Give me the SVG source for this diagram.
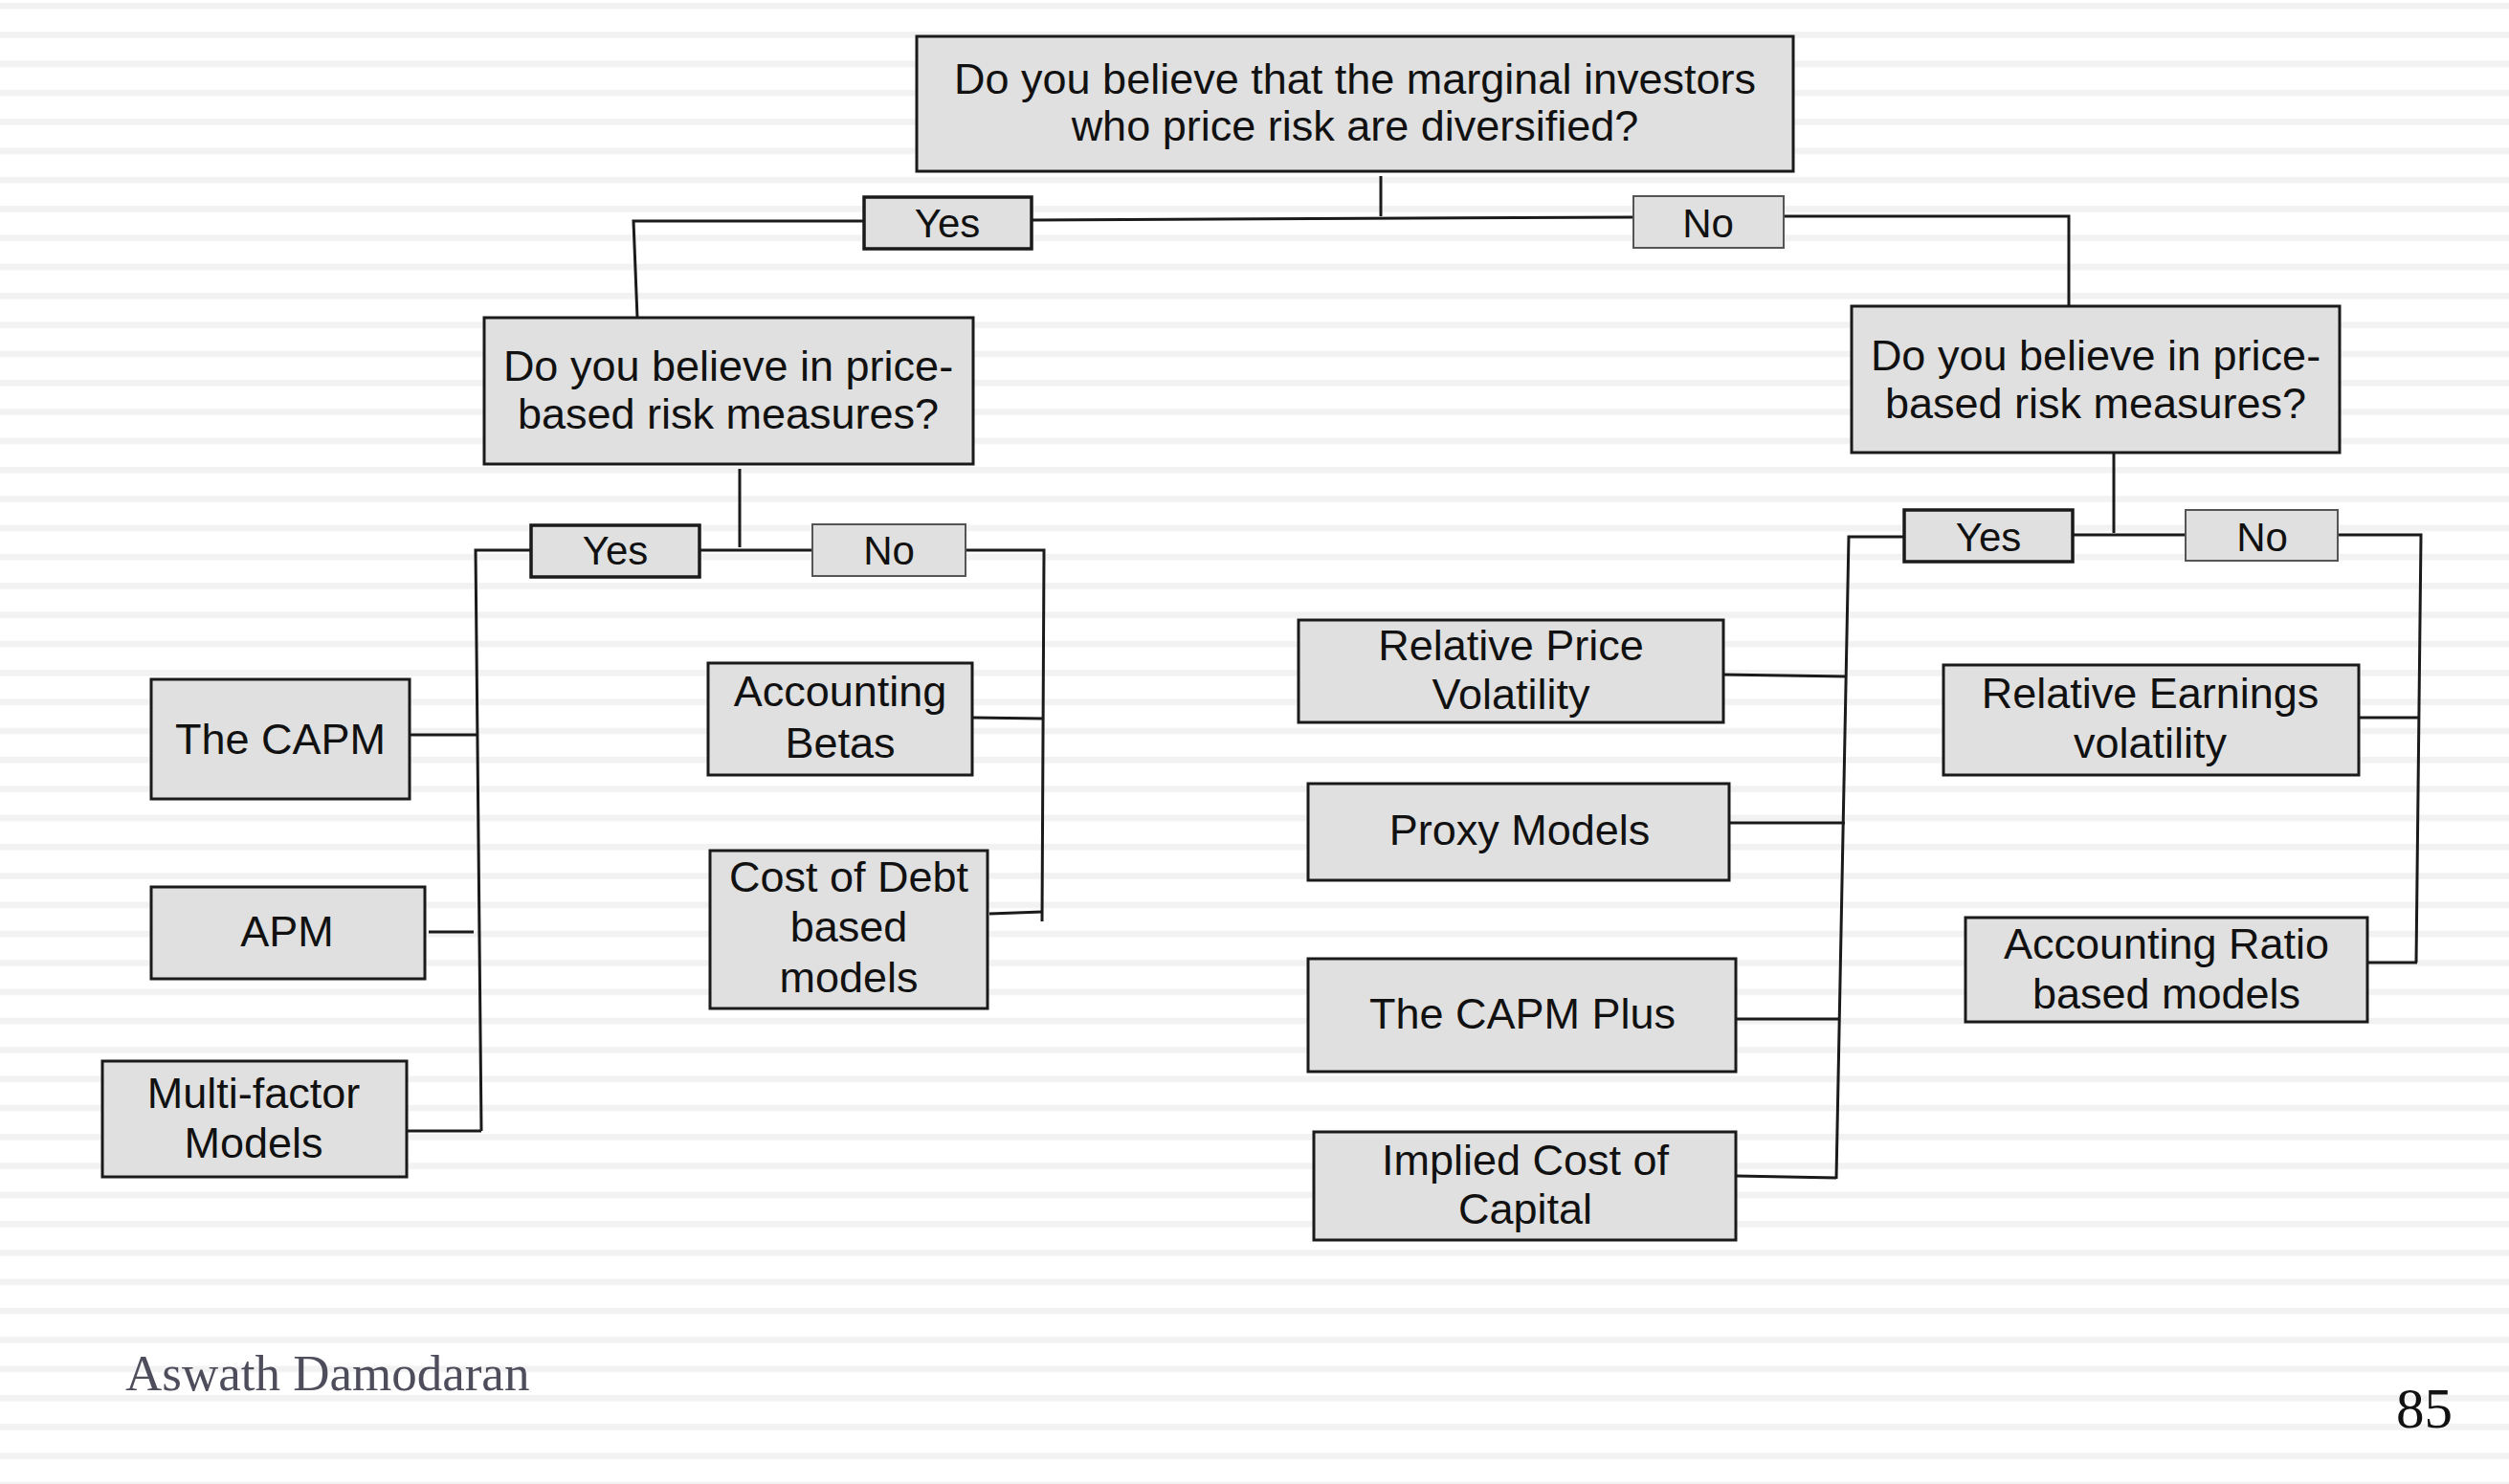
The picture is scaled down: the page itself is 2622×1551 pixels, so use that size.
<svg xmlns="http://www.w3.org/2000/svg" width="2622" height="1551" viewBox="0 0 2622 1551">
<defs>
<pattern id="stripes" patternUnits="userSpaceOnUse" x="0" y="0" width="2622" height="30.31">
<rect x="0" y="3" width="2622" height="6.5" fill="#f2f2f2"/>
</pattern>
</defs>
<style>
.box{fill:#e0e0e0;stroke:#1a1a1a;stroke-width:3}
.yes{fill:#e0e0e0;stroke:#1a1a1a;stroke-width:3.5}
.no{fill:#e0e0e0;stroke:#555;stroke-width:2}
.t{font-family:"Liberation Sans",Arial,Helvetica,sans-serif;font-size:45px;fill:#111;text-anchor:middle}
.yn{font-family:"Liberation Sans",Arial,Helvetica,sans-serif;font-size:42px;fill:#111;text-anchor:middle}
.conn path{fill:none;stroke:#1a1a1a;stroke-width:3}
</style>
<rect x="0" y="0" width="2622" height="1551" fill="#ffffff"/>
<rect x="0" y="0" width="2622" height="1551" fill="url(#stripes)"/>

<g id="connectors" class="conn">
<path d="M1443 184 V226"/>
<path d="M1078 230 L1707 227"/>
<path d="M903 231 H662 L666 332"/>
<path d="M1864 226 H2162 V320"/>
<path d="M773 490 V572"/>
<path d="M731 575 H849"/>
<path d="M555 575 H497 L503 1182"/>
<path d="M428 768 H500"/>
<path d="M448 974 H495"/>
<path d="M425 1182 H503"/>
<path d="M1009 575 H1091 L1089 963"/>
<path d="M1011 750 L1090 751"/>
<path d="M1034 955 L1089 953"/>
<path d="M2209 473 V557"/>
<path d="M2166 559 H2284"/>
<path d="M1990 561 H1932 L1919 1232"/>
<path d="M1798 705 L1930 707"/>
<path d="M1807 860 H1928"/>
<path d="M1814 1065 H1923"/>
<path d="M1814 1229 L1919 1231"/>
<path d="M2443 559 H2530 L2525 1006"/>
<path d="M2464 750 H2527"/>
<path d="M2474 1006 H2526"/>
</g>

<g id="q-diversified">
<rect class="box" x="958" y="38" width="916" height="141"/>
<text class="t" x="1416" y="98">Do you believe that the marginal investors</text>
<text class="t" x="1416" y="147">who price risk are diversified?</text>
</g>
<g id="yes-top">
<rect class="yes" x="903" y="206" width="175" height="54"/>
<text class="yn" x="990" y="248">Yes</text>
</g>
<g id="no-top">
<rect class="no" x="1707" y="205" width="157" height="54"/>
<text class="yn" x="1785" y="248">No</text>
</g>

<g id="q-price-left">
<rect class="box" x="506" y="332" width="511" height="153"/>
<text class="t" x="761" y="398">Do you believe in price-</text>
<text class="t" x="761" y="448">based risk measures?</text>
</g>
<g id="q-price-right">
<rect class="box" x="1935" y="320" width="510" height="153"/>
<text class="t" x="2190" y="387">Do you believe in price-</text>
<text class="t" x="2190" y="437">based risk measures?</text>
</g>

<g id="yes-left">
<rect class="yes" x="555" y="549" width="176" height="54"/>
<text class="yn" x="643" y="590">Yes</text>
</g>
<g id="no-left">
<rect class="no" x="849" y="548" width="160" height="54"/>
<text class="yn" x="929" y="590">No</text>
</g>
<g id="yes-right">
<rect class="yes" x="1990" y="533" width="176" height="54"/>
<text class="yn" x="2078" y="576">Yes</text>
</g>
<g id="no-right">
<rect class="no" x="2284" y="533" width="159" height="53"/>
<text class="yn" x="2364" y="576">No</text>
</g>

<g id="capm">
<rect class="box" x="158" y="710" width="270" height="125"/>
<text class="t" x="293" y="788">The CAPM</text>
</g>
<g id="apm">
<rect class="box" x="158" y="927" width="286" height="96"/>
<text class="t" x="300" y="989">APM</text>
</g>
<g id="multi-factor">
<rect class="box" x="107" y="1109" width="318" height="121"/>
<text class="t" x="265" y="1158">Multi-factor</text>
<text class="t" x="265" y="1210">Models</text>
</g>
<g id="accounting-betas">
<rect class="box" x="740" y="693" width="276" height="117"/>
<text class="t" x="878" y="738">Accounting</text>
<text class="t" x="878" y="792">Betas</text>
</g>
<g id="cost-of-debt">
<rect class="box" x="742" y="889" width="290" height="165"/>
<text class="t" x="887" y="932">Cost of Debt</text>
<text class="t" x="887" y="984">based</text>
<text class="t" x="887" y="1037">models</text>
</g>

<g id="relative-price">
<rect class="box" x="1357" y="648" width="444" height="107"/>
<text class="t" x="1579" y="690">Relative Price</text>
<text class="t" x="1579" y="741">Volatility</text>
</g>
<g id="proxy-models">
<rect class="box" x="1367" y="819" width="440" height="101"/>
<text class="t" x="1588" y="883">Proxy Models</text>
</g>
<g id="capm-plus">
<rect class="box" x="1367" y="1002" width="447" height="118"/>
<text class="t" x="1591" y="1075">The CAPM Plus</text>
</g>
<g id="implied-coc">
<rect class="box" x="1373" y="1183" width="441" height="113"/>
<text class="t" x="1594" y="1228">Implied Cost of</text>
<text class="t" x="1594" y="1279">Capital</text>
</g>
<g id="relative-earnings">
<rect class="box" x="2031" y="695" width="434" height="115"/>
<text class="t" x="2247" y="740">Relative Earnings</text>
<text class="t" x="2247" y="792">volatility</text>
</g>
<g id="accounting-ratio">
<rect class="box" x="2054" y="959" width="420" height="109"/>
<text class="t" x="2264" y="1002">Accounting Ratio</text>
<text class="t" x="2264" y="1054">based models</text>
</g>

<text x="131" y="1453" font-family="'Liberation Serif','Times New Roman',serif" font-size="53" fill="#4d4d5c">Aswath Damodaran</text>
<text x="2563" y="1492" font-family="'Liberation Serif','Times New Roman',serif" font-size="59" fill="#111" text-anchor="end">85</text>
</svg>
